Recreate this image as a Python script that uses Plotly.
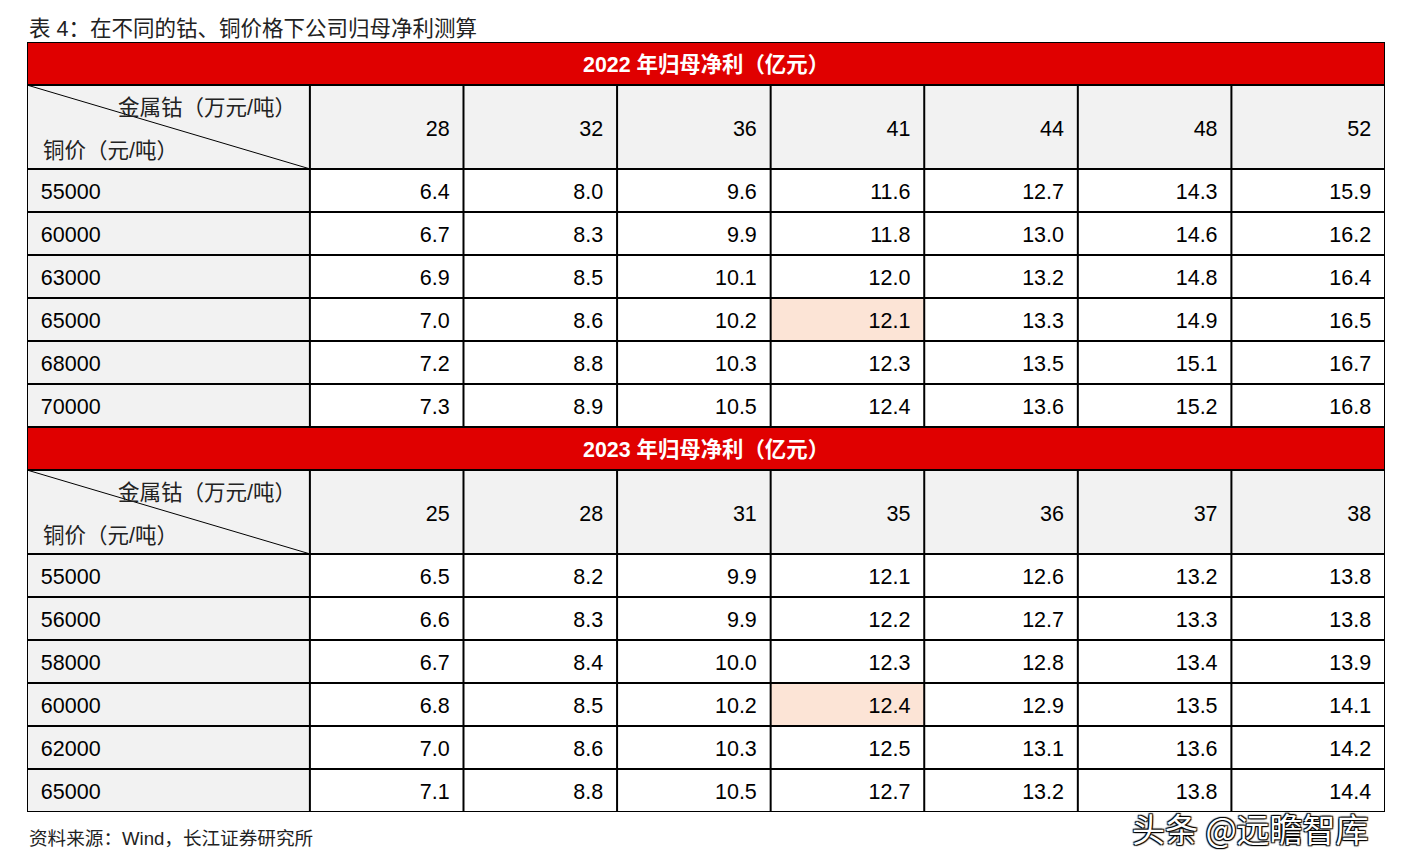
import plotly.graph_objects as go

cobalt_2022 = [28, 32, 36, 41, 44, 48, 52]          # 万元/吨
copper_2022 = [55000, 60000, 63000, 65000, 68000, 70000]  # 元/吨
profit_2022 = [
    [6.4, 8.0, 9.6, 11.6, 12.7, 14.3, 15.9],
    [6.7, 8.3, 9.9, 11.8, 13.0, 14.6, 16.2],
    [6.9, 8.5, 10.1, 12.0, 13.2, 14.8, 16.4],
    [7.0, 8.6, 10.2, 12.1, 13.3, 14.9, 16.5],
    [7.2, 8.8, 10.3, 12.3, 13.5, 15.1, 16.7],
    [7.3, 8.9, 10.5, 12.4, 13.6, 15.2, 16.8],
]

cobalt_2023 = [25, 28, 31, 35, 36, 37, 38]
copper_2023 = [55000, 56000, 58000, 60000, 62000, 65000]
profit_2023 = [
    [6.5, 8.2, 9.9, 12.1, 12.6, 13.2, 13.8],
    [6.6, 8.3, 9.9, 12.2, 12.7, 13.3, 13.8],
    [6.7, 8.4, 10.0, 12.3, 12.8, 13.4, 13.9],
    [6.8, 8.5, 10.2, 12.4, 12.9, 13.5, 14.1],
    [7.0, 8.6, 10.3, 12.5, 13.1, 13.6, 14.2],
    [7.1, 8.8, 10.5, 12.7, 13.2, 13.8, 14.4],
]

# base case highlighted in each block (row index, column index)
highlight_2022 = (3, 3)
highlight_2023 = (3, 3)

blocks = [
    ("2022 年归母净利（亿元）", cobalt_2022, copper_2022, profit_2022, highlight_2022),
    ("2023 年归母净利（亿元）", cobalt_2023, copper_2023, profit_2023, highlight_2023),
]

RED = "#e00000"
GREY = "#f2f2f2"
PEACH = "#fce4d6"
FONT = "Liberation Sans, Arial, Noto Sans CJK SC"

FIRST_W = 1.842   # width of the label column, in data-column units
HEAD_H = 1.95     # header row height, in data-row units
DY = 0.07         # text sits a touch low in the cells
ncol = len(cobalt_2022)
col_edges = [0] + [FIRST_W + i for i in range(ncol + 1)]
x_max = col_edges[-1]

fig = go.Figure()
shapes = []
lines = []

y0 = 0
for title, cobalt, copper, profit, hl in blocks:
    nrow = len(copper)
    # red title bar
    shapes.append(dict(type="rect", x0=0, x1=x_max, y0=y0, y1=y0 + 1,
                       fillcolor=RED, line_width=0, layer="below"))
    fig.add_annotation(x=x_max / 2, y=y0 + 0.5 + DY / 2, text=title, showarrow=False,
                       font=dict(family=FONT, size=21.4, color="white", weight="bold"))
    h0, h1 = y0 + 1, y0 + 1 + HEAD_H
    d0 = h1
    d1 = d0 + nrow
    # grey header row and label column
    shapes.append(dict(type="rect", x0=0, x1=x_max, y0=h0, y1=h1,
                       fillcolor=GREY, line_width=0, layer="below"))
    shapes.append(dict(type="rect", x0=0, x1=FIRST_W, y0=d0, y1=d1,
                       fillcolor=GREY, line_width=0, layer="below"))
    # highlighted base case
    r, c = hl
    shapes.append(dict(type="rect", x0=col_edges[c + 1], x1=col_edges[c + 2],
                       y0=d0 + r, y1=d0 + r + 1,
                       fillcolor=PEACH, line_width=0, layer="below"))
    # diagonal in the corner cell
    lines.append(dict(type="line", x0=0, x1=FIRST_W, y0=h0, y1=h1,
                      line=dict(color="black", width=1)))
    # horizontal rules
    for yy in [y0, h0, h1] + [d0 + i for i in range(1, nrow + 1)]:
        lines.append(dict(type="line", x0=0, x1=x_max, y0=yy, y1=yy,
                          line=dict(color="black", width=2)))
    # vertical rules (not across the red bar)
    for xx in col_edges:
        lines.append(dict(type="line", x0=xx, x1=xx, y0=h0, y1=d1,
                          line=dict(color="black", width=2)))
    lines.append(dict(type="line", x0=0, x1=0, y0=y0, y1=h0,
                      line=dict(color="black", width=2)))
    lines.append(dict(type="line", x0=x_max, x1=x_max, y0=y0, y1=h0,
                      line=dict(color="black", width=2)))

    # corner labels
    fig.add_annotation(x=FIRST_W - 0.078, y=h0 + 0.5 + DY / 2, text="金属钴（万元/吨）",
                       showarrow=False, xanchor="right",
                       font=dict(family=FONT, size=21.5, color="#222"))
    fig.add_annotation(x=0.09, y=h0 + 1.5 + DY / 2, text="铜价（元/吨）",
                       showarrow=False, xanchor="left",
                       font=dict(family=FONT, size=21.5, color="#222"))

    # cobalt price headers
    fig.add_trace(go.Scatter(
        x=[col_edges[i + 2] - 0.09 for i in range(ncol)],
        y=[(h0 + h1) / 2 + DY * 1.3] * ncol,
        text=[str(v) for v in cobalt],
        mode="text", textposition="middle left",
        textfont=dict(family=FONT, size=21.5, color="black"),
        hoverinfo="skip", showlegend=False,
    ))
    # copper price labels
    fig.add_trace(go.Scatter(
        x=[0.09] * nrow,
        y=[d0 + i + 0.5 + DY for i in range(nrow)],
        text=[str(v) for v in copper],
        mode="text", textposition="middle right",
        textfont=dict(family=FONT, size=21.5, color="black"),
        hoverinfo="skip", showlegend=False,
    ))
    # profit values
    xs, ys, ts = [], [], []
    for i, row in enumerate(profit):
        for j, v in enumerate(row):
            xs.append(col_edges[j + 2] - 0.09)
            ys.append(d0 + i + 0.5 + DY)
            ts.append(f"{v:.1f}")
    fig.add_trace(go.Scatter(
        x=xs, y=ys, text=ts,
        mode="text", textposition="middle left",
        textfont=dict(family=FONT, size=21.5, color="black"),
        hoverinfo="skip", showlegend=False,
    ))
    y0 = d1

y_max = y0

fig.add_annotation(xref="paper", yref="paper", x=0, y=1, yshift=13,
                   xanchor="left", yanchor="middle", showarrow=False,
                   text="表 4：在不同的钴、铜价格下公司归母净利测算",
                   font=dict(family=FONT, size=21.5, color="#222"))
fig.add_annotation(xref="paper", yref="paper", x=0, y=0, yshift=-26,
                   xanchor="left", yanchor="middle", showarrow=False,
                   text="资料来源：Wind，长江证券研究所",
                   font=dict(family=FONT, size=18.6, color="#222"))
# watermark
fig.add_annotation(xref="paper", yref="paper", x=0.9006, y=0, yshift=-16,
                   xanchor="center", yanchor="middle", showarrow=False,
                   text="头条 @远瞻智库",
                   font=dict(family="Noto Sans CJK SC", size=33, color="white",
                             shadow="1px 1px 1px #000, -1px -1px 1px #000, 1px -1px 1px #000, -1px 1px 1px #000"))

# the page body adds an 8px margin, so the figure is 8px smaller than the window
fig.update_layout(
    width=1395, height=857,
    margin=dict(l=19, r=18, t=34, b=53),
    paper_bgcolor="white", plot_bgcolor="white",
    shapes=shapes + lines,
    xaxis=dict(range=[0, x_max], visible=False, fixedrange=True),
    yaxis=dict(range=[y_max, 0], visible=False, fixedrange=True),
    showlegend=False,
)

fig.write_html("out.html")
